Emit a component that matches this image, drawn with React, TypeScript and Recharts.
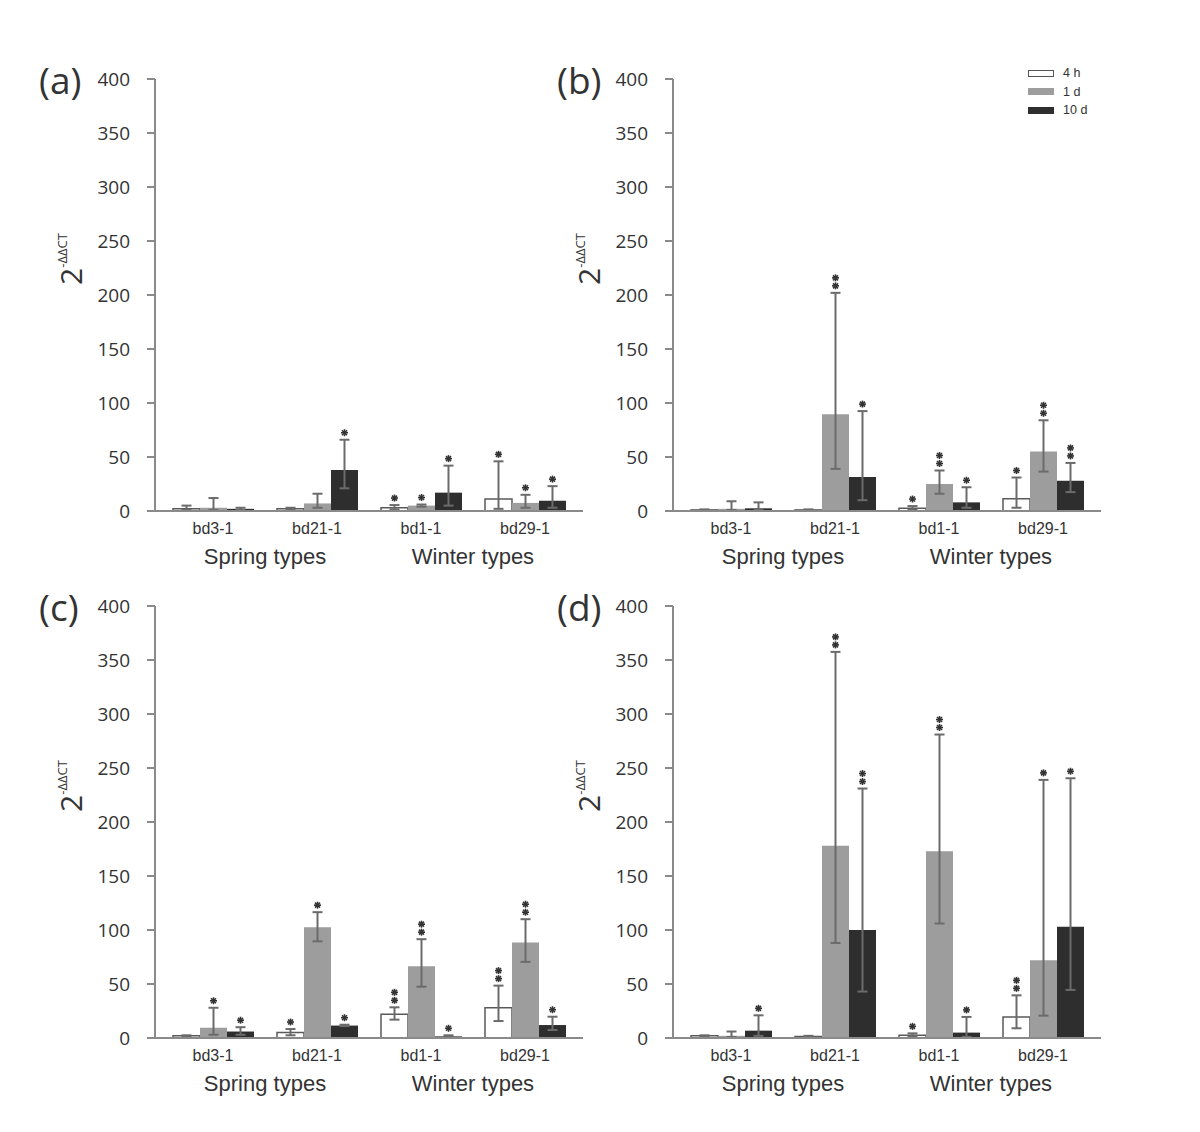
import React from "react";
import { BarChart, Bar, XAxis, YAxis, ErrorBar, LabelList, Legend } from "recharts";

const categories = ["bd3-1", "bd21-1", "bd1-1", "bd29-1"];
const groupLabels = ["Spring types", "Winter types"];
const seriesNames = ["4 h", "1 d", "10 d"];
const yTicks = [0, 50, 100, 150, 200, 250, 300, 350, 400];

// each array: rows are 4 h, 1 d, 10 d; columns follow categories
const aMean = [[2, 2, 3, 11], [3, 7, 5, 7.5], [2, 38, 17, 9.5]];
const aHigh = [[5, 3, 5.5, 46], [12, 16, 6, 15], [3, 66, 42, 23]];
const aLow = [[1, 1.5, 1.5, 2], [1, 3, 4, 3], [1, 21, 5, 3]];
const aStars = [[0, 0, 1, 1], [0, 0, 1, 1], [0, 1, 1, 1]];

const bMean = [[1, 1, 2.5, 11.3], [2, 89.5, 25, 55], [2.5, 31.5, 8, 28]];
const bHigh = [[1.5, 1.5, 4.6, 31], [9, 202, 37.5, 84], [8, 92.5, 22, 44.5]];
const bLow = [[0.5, 0.5, 1, 3], [1, 39, 16, 36.5], [1, 10, 3, 17.5]];
const bStars = [[0, 0, 1, 1], [0, 2, 2, 2], [0, 1, 1, 2]];

const cMean = [[2, 5, 22, 28], [9.5, 102.5, 66.5, 88.5], [6, 11.5, 1.5, 12]];
const cHigh = [[2.5, 8.3, 28.4, 48.5], [28, 116.5, 91.5, 110], [10, 12.3, 2.5, 19.7]];
const cLow = [[1.5, 2.5, 17, 15.7], [3, 89.5, 47.5, 70.5], [3, 11, 1, 7.4]];
const cStars = [[0, 1, 2, 2], [1, 1, 2, 2], [1, 1, 1, 1]];

const dMean = [[2, 1.5, 2.5, 19.5], [2, 178, 173, 72], [6.8, 100, 5, 103]];
const dHigh = [[2.5, 2, 4.3, 39.5], [6, 357.5, 281, 239], [21, 231, 19.5, 240.5]];
const dLow = [[1.5, 1, 1.5, 9], [1, 88, 106, 20.7], [2, 43, 1, 44.5]];
const dStars = [[0, 0, 1, 2], [0, 2, 2, 1], [1, 2, 1, 1]];

const fills = ["#ffffff", "#9d9d9d", "#2e2e2e"];
const strokes = ["#5a5a5a", "none", "none"];
const axisGray = "#8a8a8a";
const textColor = "#333";
const sans = "'Liberation Sans', Arial, sans-serif";
const open = "'Open Sans', sans-serif";

function Asterisk({ cx, cy }: { cx: number; cy: number }) {
  return (
    <g stroke="#333" strokeWidth={1.6}>
      <line x1={cx - 3.5} y1={cy} x2={cx + 3.5} y2={cy} />
      <line x1={cx} y1={cy - 3.5} x2={cx} y2={cy + 3.5} />
      <line x1={cx - 2.5} y1={cy - 2.5} x2={cx + 2.5} y2={cy + 2.5} />
      <line x1={cx - 2.5} y1={cy + 2.5} x2={cx + 2.5} y2={cy - 2.5} />
    </g>
  );
}

function CategoryTick(props: any) {
  const { x, y, payload } = props;
  const idx = categories.indexOf(payload.value);
  const half = payload.offset ?? 0;
  const group = idx % 2 === 0 ? groupLabels[idx / 2] : null;
  return (
    <g>
      <text x={x} y={y + 23} textAnchor="middle" fontSize={16} fontFamily={sans} fill={textColor}>
        {payload.value}
      </text>
      {group && (
        <text x={x + half} y={y + 53} textAnchor="middle" fontSize={22} fontFamily={sans} fill={textColor}>
          {group}
        </text>
      )}
    </g>
  );
}

function yLabel(props: any) {
  const vb = props.viewBox;
  const cx = vb.x + 52;
  const cy = vb.y + vb.height / 2 - 36;
  return (
    <text x={cx} y={cy} transform={`rotate(-90 ${cx} ${cy})`} textAnchor="middle" fill={textColor} fontFamily={open}>
      <tspan fontSize={30}>2</tspan>
      <tspan fontSize={13} dy={-15}>-ΔΔCT</tspan>
    </text>
  );
}

function LegendBox() {
  return (
    <div style={{ fontFamily: sans, fontSize: 12.5, color: textColor }}>
      {seriesNames.map((n, i) => (
        <div key={n} style={{ display: "flex", alignItems: "center", height: 18.5 }}>
          <span
            style={{
              display: "inline-block",
              width: 26,
              height: 7,
              background: fills[i],
              border: i === 0 ? "1.5px solid #555" : "none",
              boxSizing: "border-box",
              marginRight: 9,
            }}
          />
          {n}
        </div>
      ))}
    </div>
  );
}

type PanelProps = {
  letter: string;
  mean: number[][];
  high: number[][];
  low: number[][];
  stars: number[][];
  left: number;
  top: number;
  legend?: boolean;
};

function Panel({ letter, mean, high, low, stars, left, top, legend }: PanelProps) {
  const rows = categories.map((name, i) => {
    const row: any = { name };
    for (let s = 0; s < 3; s++) {
      row["v" + s] = mean[s][i];
      row["e" + s] = [mean[s][i] - low[s][i], high[s][i] - mean[s][i]];
      row["s" + s] = stars[s][i];
      row["h" + s] = high[s][i];
    }
    return row;
  });

  const starContent = (s: number) => (props: any) => {
    const n = Number(props.value);
    if (!n) return null;
    const vb = props.viewBox ?? props;
    const x = vb.x ?? props.x;
    const y = vb.y ?? props.y;
    const w = vb.width ?? props.width;
    const h = vb.height ?? props.height;
    const row = rows[props.index];
    const perUnit = h / row["v" + s];
    const errTop = y + h - row["h" + s] * perUnit;
    const cx = x + w / 2;
    return (
      <g>
        {Array.from({ length: n }).map((_, k) => (
          <Asterisk key={k} cx={cx} cy={errTop - 7 - 8 * k} />
        ))}
      </g>
    );
  };

  return (
    <>
      <div
        style={{
          position: "absolute",
          left: left + 9,
          top: top + 1,
          fontFamily: open,
          fontSize: 37,
          lineHeight: 1,
          color: textColor,
        }}
      >
        ({letter})
      </div>
      <div style={{ position: "absolute", left, top }}>
        <BarChart width={553} height={511} data={rows} margin={{ top: 19, right: 0, left: 0, bottom: 0 }} barGap={0}>
          <XAxis
            dataKey="name"
            interval={0}
            height={60}
            padding={{ left: 6, right: 6 }}
            tickLine={false}
            tickSize={0}
            tickMargin={0}
            axisLine={{ stroke: axisGray, strokeWidth: 2 }}
            tick={<CategoryTick />}
          />
          <YAxis
            domain={[0, 400]}
            ticks={yTicks}
            interval={0}
            width={125}
            tickSize={8}
            tickMargin={17}
            axisLine={{ stroke: axisGray, strokeWidth: 2 }}
            tickLine={{ stroke: axisGray, strokeWidth: 2 }}
            tick={{ fill: textColor, fontSize: 19, fontFamily: open }}
            label={{ content: yLabel }}
          />
          {legend && (
            <Legend
              layout="vertical"
              align="center"
              verticalAlign="middle"
              content={<LegendBox />}
              wrapperStyle={{ position: "absolute", left: 480, top: 4, width: "auto" }}
            />
          )}
          {[0, 1, 2].map((s) => (
            <Bar
              key={s}
              dataKey={"v" + s}
              name={seriesNames[s]}
              fill={fills[s]}
              stroke={strokes[s]}
              strokeWidth={1.5}
              barSize={27}
              isAnimationActive={false}
            >
              <ErrorBar dataKey={"e" + s} direction="y" width={5} stroke="#6b6b6b" strokeWidth={2} />
              <LabelList dataKey={"s" + s} content={starContent(s)} />
            </Bar>
          ))}
        </BarChart>
      </div>
    </>
  );
}

export default function App() {
  return (
    <div style={{ position: "absolute", left: 0, top: 0, width: 1200, height: 1132, background: "#fff" }}>
      <Panel letter="a" mean={aMean} high={aHigh} low={aLow} stars={aStars} left={30} top={60} />
      <Panel letter="b" mean={bMean} high={bHigh} low={bLow} stars={bStars} left={548} top={60} legend />
      <Panel letter="c" mean={cMean} high={cHigh} low={cLow} stars={cStars} left={30} top={587} />
      <Panel letter="d" mean={dMean} high={dHigh} low={dLow} stars={dStars} left={548} top={587} />
    </div>
  );
}
